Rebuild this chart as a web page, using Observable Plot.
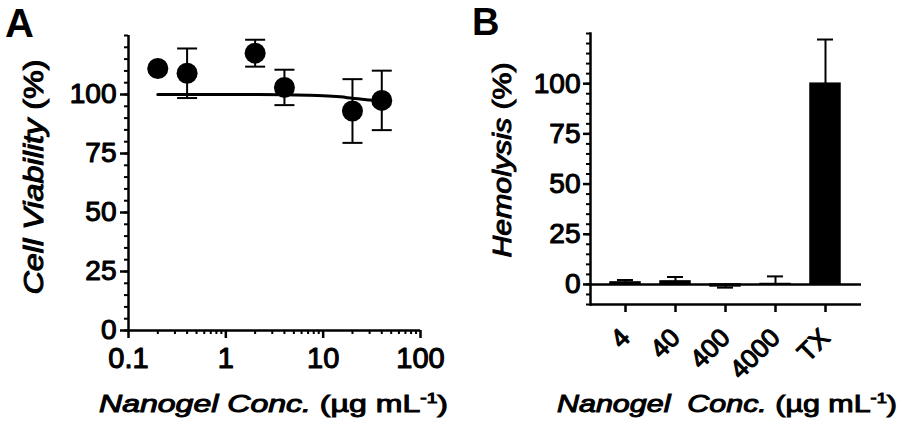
<!DOCTYPE html>
<html><head><meta charset="utf-8">
<script src="https://cdn.jsdelivr.net/npm/d3@7"></script>
<script src="https://cdn.jsdelivr.net/npm/@observablehq/plot@0.6"></script>
<style>
body{margin:0;background:#fff;}
#wrap{display:flex;width:900px;height:434px;overflow:hidden;}
#wrap svg{overflow:visible;}
</style></head><body><div id="wrap"></div>
<script>
// Panel A: cell viability vs nanogel concentration
const concA = [0.2, 0.4, 2, 4, 20, 40];
const viabA = [111, 109, 117.5, 103, 93, 97.5];
const errA  = [0.5, 10.5, 5.7, 7.5, 13.5, 12.6];
// fitted curve
const fitConc = [0.2, 0.5, 1, 2, 4, 7, 10, 15, 20, 30, 40];
const fitViab = [100, 100, 100, 100, 99.9, 99.7, 99.5, 99.0, 98.4, 97.7, 97.2];
const xTicksA = [0.1, 1, 10, 100];
const xMinorA = [0.2,0.3,0.4,0.5,0.6,0.7,0.8,0.9,2,3,4,5,6,7,8,9,20,30,40,50,60,70,80,90];
const yTicksA = [0, 25, 50, 75, 100];
const yMinorA = d3.range(0, 126, 5);
// Panel B: hemolysis
const catsB = ["4", "40", "400", "4000", "TX"];
const hemoB = [1.0, 1.5, -1.0, 0.2, 100];
const errB  = [1.2, 2.2, 0.6, 3.8, 22];
const yTicksB = [0, 25, 50, 75, 100];
const yMinorB = d3.range(-10, 126, 5);

const dataA = concA.map((c, i) => ({c, v: viabA[i], e: errA[i]}));
const fitA = fitConc.map((c, i) => ({c, v: fitViab[i]}));
const dataB = catsB.map((c, i) => ({c, v: hemoB[i], e: errB[i], end: hemoB[i] + Math.sign(hemoB[i]) * errB[i]}));

const font = "'Liberation Sans', Arial, sans-serif";
const cap = {draw(ctx, size) { const w = Math.sqrt(size / Math.PI); ctx.moveTo(-w, 0); ctx.lineTo(w, 0); }};
const thick = {textStroke: "black", textStrokeWidth: 1.1};

const plotA = Plot.plot({
  width: 450, height: 434,
  marginLeft: 128, marginRight: 30, marginTop: 35, marginBottom: 104,
  style: {fontFamily: font, fontSize: "28px", fontWeight: "normal", color: "black", background: "transparent"},
  x: {type: "log", domain: [0.1, 100]},
  y: {domain: [0, 125]},
  marks: [
    Plot.axisY(yMinorA, {tickSize: 4, fill: "none", strokeWidth: 2}),
    Plot.axisY(yTicksA, {tickSize: 8, tickPadding: 4, strokeWidth: 2.5, label: null, ...thick}),
    Plot.axisX(xMinorA, {tickSize: 4, fill: "none", strokeWidth: 2}),
    Plot.axisX(xTicksA, {tickSize: 8, tickPadding: 9, strokeWidth: 2.5, label: null, tickFormat: d => String(d), fontSize: 29, ...thick}),
    Plot.ruleX([0.1], {y1: 0, y2: 125, strokeWidth: 2.5}),
    Plot.ruleY([0], {strokeWidth: 2.5}),
    Plot.line(fitA, {x: "c", y: "v", curve: "natural", strokeWidth: 3}),
    Plot.ruleX(dataA, {x: "c", y1: d => d.v - d.e, y2: d => d.v + d.e, strokeWidth: 2}),
    Plot.dot(dataA, {x: "c", y: d => d.v + d.e, r: 10, symbol: cap, fill: "none", stroke: "black", strokeWidth: 2}),
    Plot.dot(dataA, {x: "c", y: d => d.v - d.e, r: 10, symbol: cap, fill: "none", stroke: "black", strokeWidth: 2}),
    Plot.dot(dataA, {x: "c", y: "v", r: 10.5, fill: "black", stroke: "none"})
  ]
});

const plotB = Plot.plot({
  width: 450, height: 434,
  marginLeft: 140, marginRight: 39, marginTop: 33, marginBottom: 130,
  style: {fontFamily: font, fontSize: "28px", fontWeight: "normal", color: "black", background: "transparent"},
  x: {domain: catsB, paddingInner: 0.394, paddingOuter: 0.38},
  y: {domain: [-10, 125]},
  marks: [
    Plot.axisY(yMinorB, {tickSize: 4, fill: "none", strokeWidth: 2}),
    Plot.axisY(yTicksB, {tickSize: 7, tickPadding: 3, strokeWidth: 2.5, label: null, ...thick}),
    Plot.axisX({tickSize: 8, tickPadding: 21, tickRotate: -45, strokeWidth: 2.5, label: null, fontSize: 26, ...thick}),
    Plot.frame({anchor: "left", strokeWidth: 2.5}),
    Plot.ruleY([-10], {strokeWidth: 2.5}),
    Plot.ruleX(dataB, {x: "c", y1: "v", y2: "end", strokeWidth: 2}),
    Plot.tickY(dataB, {x: "c", y: "end", insetLeft: 7, insetRight: 7, strokeWidth: 2}),
    Plot.barY(dataB, {x: "c", y: "v", fill: "black", stroke: "black", strokeWidth: 1.5}),
    Plot.ruleY([0], {strokeWidth: 2.5})
  ]
});

const wrap = document.getElementById("wrap");
wrap.appendChild(plotA);
wrap.appendChild(plotB);

function addText(svg, {x, y, rotate = 0, size, length, anchor = "middle", weight = "normal", stroke = 1, parts}) {
  const t = d3.select(svg).append("text")
    .attr("transform", `translate(${x},${y}) rotate(${rotate})`)
    .attr("text-anchor", anchor)
    .attr("font-family", font)
    .attr("font-weight", weight)
    .attr("font-size", size)
    .attr("fill", "black")
    .attr("stroke", stroke ? "black" : "none")
    .attr("stroke-width", stroke)
    .attr("paint-order", "stroke")
    .style("white-space", "pre");
  if (length) t.attr("textLength", length).attr("lengthAdjust", "spacingAndGlyphs");
  for (const p of parts) {
    const s = t.append("tspan").text(p.t);
    if (p.italic) s.attr("font-style", "italic");
    if (p.sup) s.attr("font-size", size * 0.6).attr("dy", -size * 0.38);
    if (p.down) s.attr("dy", size * 0.38);
  }
  return t;
}

addText(plotA, {x: 5, y: 36.5, size: 40, anchor: "start", weight: "bold", stroke: 0, parts: [{t: "A"}]});
addText(plotB, {x: 22, y: 35, size: 38, anchor: "start", weight: "bold", stroke: 0, parts: [{t: "B"}]});
addText(plotA, {x: 43, y: 177, rotate: -90, size: 27, length: 235,
  parts: [{t: "Cell Viability", italic: true}, {t: " (%)"}]});
addText(plotB, {x: 61, y: 160, rotate: -90, size: 26, length: 195,
  parts: [{t: "Hemolysis", italic: true}, {t: " (%)"}]});
addText(plotA, {x: 99, y: 412, size: 24, anchor: "start", length: 349,
  parts: [{t: "Nanogel Conc.", italic: true}, {t: " (µg mL"}, {t: "-1", sup: true}, {t: ")", down: true}]});
addText(plotB, {x: 107, y: 412, size: 24, anchor: "start", length: 340,
  parts: [{t: "Nanogel  Conc.", italic: true}, {t: " (µg mL"}, {t: "-1", sup: true}, {t: ")", down: true}]});
</script></body></html>
